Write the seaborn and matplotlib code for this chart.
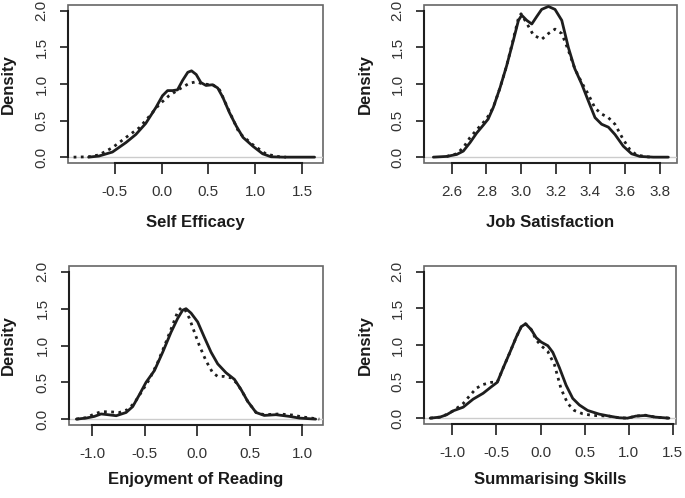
import matplotlib
matplotlib.use("Agg")
import matplotlib.pyplot as plt
import seaborn as sns

# ---- data (solid = line 1, dotted = line 2) ----
self_eff_x1 = [-0.78, -0.67, -0.525, -0.38, -0.275, -0.17, -0.06, 0.01, 0.064, 0.118, 0.17, 0.225,
               0.28, 0.32, 0.37, 0.42, 0.475, 0.546, 0.6, 0.654, 0.725, 0.796, 0.87, 0.975, 1.08,
               1.17, 1.3, 1.635]
self_eff_y1 = [0.0, 0.015, 0.07, 0.2, 0.31, 0.46, 0.68, 0.84, 0.91, 0.91, 0.92, 1.05,
               1.16, 1.18, 1.13, 1.02, 0.98, 0.99, 0.945, 0.82, 0.61, 0.43, 0.27, 0.15, 0.046,
               0.005, 0.0, 0.0]
self_eff_x2 = [-0.94, -0.78, -0.67, -0.525, -0.38, -0.24, -0.13, -0.025, 0.08, 0.19, 0.296, 0.37,
               0.44, 0.546, 0.62, 0.69, 0.83, 0.975, 1.12, 1.26, 1.33]
self_eff_y2 = [0.0, 0.005, 0.03, 0.13, 0.27, 0.40, 0.56, 0.72, 0.84, 0.93, 1.01, 1.03,
               1.0, 0.99, 0.92, 0.72, 0.33, 0.17, 0.04, 0.005, 0.0]

job_sat_x1 = [2.494, 2.571, 2.629, 2.667, 2.706, 2.744, 2.783, 2.81, 2.84, 2.879, 2.917, 2.956,
              2.985, 3.004, 3.033, 3.062, 3.09, 3.119, 3.158, 3.196, 3.235, 3.273, 3.31, 3.35,
              3.388, 3.427, 3.465, 3.504, 3.542, 3.59, 3.638, 3.686, 3.763, 3.85]
job_sat_y1 = [0.0, 0.01, 0.037, 0.083, 0.2, 0.33, 0.44, 0.52, 0.68, 0.95, 1.25, 1.6,
              1.87, 1.94, 1.87, 1.82, 1.92, 2.02, 2.06, 2.02, 1.87, 1.5, 1.21, 1.0,
              0.77, 0.54, 0.45, 0.41, 0.31, 0.15, 0.046, 0.01, 0.0, 0.0]
job_sat_x2 = [2.571, 2.629, 2.667, 2.706, 2.754, 2.8, 2.84, 2.879, 2.917, 2.956, 2.985, 3.0,
              3.033, 3.071, 3.119, 3.158, 3.196, 3.235, 3.273, 3.31, 3.35, 3.388, 3.427, 3.465,
              3.504, 3.542, 3.59, 3.629, 3.667, 3.725, 3.75]
job_sat_y2 = [0.01, 0.046, 0.13, 0.27, 0.40, 0.52, 0.68, 0.95, 1.25, 1.62, 1.9, 1.96,
              1.83, 1.67, 1.61, 1.69, 1.75, 1.69, 1.46, 1.21, 1.02, 0.86, 0.67, 0.59,
              0.54, 0.45, 0.24, 0.1, 0.03, 0.005, 0.0]

reading_x1 = [-1.15, -1.057, -0.978, -0.914, -0.85, -0.77, -0.676, -0.613, -0.55, -0.486, -0.406,
              -0.327, -0.248, -0.184, -0.137, -0.105, -0.057, 0.006, 0.07, 0.133, 0.197, 0.276,
              0.356, 0.42, 0.483, 0.562, 0.64, 0.752, 0.88, 0.975, 1.13]
reading_y1 = [0.0, 0.014, 0.037, 0.07, 0.06, 0.046, 0.09, 0.17, 0.33, 0.5, 0.66,
              0.91, 1.18, 1.37, 1.48, 1.5, 1.44, 1.32, 1.11, 0.91, 0.75, 0.63,
              0.54, 0.40, 0.24, 0.09, 0.05, 0.06, 0.037, 0.014, 0.0]
reading_x2 = [-1.15, -1.057, -0.978, -0.914, -0.835, -0.74, -0.66, -0.597, -0.533, -0.454, -0.375,
              -0.295, -0.232, -0.184, -0.152, -0.12, -0.073, -0.025, 0.022, 0.086, 0.149, 0.197,
              0.26, 0.324, 0.37, 0.42, 0.483, 0.562, 0.64, 0.784, 0.91, 1.0, 1.165]
reading_y2 = [0.0, 0.02, 0.07, 0.1, 0.1, 0.09, 0.13, 0.22, 0.36, 0.54, 0.77,
              1.05, 1.28, 1.46, 1.51, 1.5, 1.37, 1.18, 1.0, 0.79, 0.63, 0.58,
              0.58, 0.56, 0.5, 0.40, 0.24, 0.09, 0.06, 0.07, 0.055, 0.03, 0.0]

summ_x1 = [-1.25, -1.14, -1.064, -0.989, -0.876, -0.763, -0.65, -0.556, -0.49, -0.425, -0.35,
           -0.274, -0.218, -0.169, -0.105, -0.049, 0.008, 0.083, 0.139, 0.214, 0.29, 0.365,
           0.44, 0.534, 0.665, 0.778, 0.89, 0.985, 1.08, 1.19, 1.3, 1.455]
summ_y1 = [0.0, 0.014, 0.046, 0.1, 0.15, 0.26, 0.34, 0.43, 0.49, 0.68, 0.89,
           1.11, 1.25, 1.29, 1.21, 1.10, 1.04, 0.99, 0.9, 0.69, 0.45, 0.27,
           0.18, 0.105, 0.055, 0.028, 0.005, 0.0, 0.028, 0.037, 0.014, 0.0]
summ_x2 = [-1.25, -1.14, -1.064, -0.989, -0.876, -0.8, -0.726, -0.65, -0.556, -0.49, -0.425,
           -0.35, -0.274, -0.218, -0.169, -0.105, -0.049, 0.008, 0.083, 0.158, 0.233, 0.308,
           0.383, 0.477, 0.59, 0.778, 0.89, 0.985, 1.08, 1.19, 1.3, 1.455]
summ_y2 = [0.0, 0.014, 0.05, 0.1, 0.2, 0.31, 0.41, 0.46, 0.49, 0.49, 0.68,
           0.89, 1.11, 1.25, 1.29, 1.21, 1.07, 0.99, 0.91, 0.73, 0.40, 0.2,
           0.105, 0.06, 0.037, 0.028, 0.005, 0.0, 0.028, 0.04, 0.014, 0.0]

panel_labels = ["Self Efficacy", "Job Satisfaction", "Enjoyment of Reading", "Summarising Skills"]
y_ticks = [0.0, 0.5, 1.0, 1.5, 2.0]
x_ticks = [
    [-0.5, 0.0, 0.5, 1.0, 1.5],
    [2.6, 2.8, 3.0, 3.2, 3.4, 3.6, 3.8],
    [-1.0, -0.5, 0.0, 0.5, 1.0],
    [-1.0, -0.5, 0.0, 0.5, 1.0, 1.5],
]
x_limits = [(-1.0, 1.725), (2.44, 3.90), (-1.22, 1.20), (-1.32, 1.535)]

series = [
    (self_eff_x1, self_eff_y1, self_eff_x2, self_eff_y2),
    (job_sat_x1, job_sat_y1, job_sat_x2, job_sat_y2),
    (reading_x1, reading_y1, reading_x2, reading_y2),
    (summ_x1, summ_y1, summ_x2, summ_y2),
]

sns.set_theme(style="white")
plt.rcParams["font.family"] = ["Liberation Sans", "DejaVu Sans"]

W, H = 685, 498
fig = plt.figure(figsize=(W / 100, H / 100), dpi=100)

# axes boxes in pixels: left, top, right, bottom
boxes = [(68, 5, 323, 163), (424, 5, 677, 163), (69, 266, 323, 425), (424, 266, 676, 424)]
# pixel positions of axis titles: right edge of "Density", top of the x label
ylabel_right = [16, 373, 16, 373]
xlabel_top = [215, 215, 472, 472]

for i, (l, t, r, b) in enumerate(boxes):
    ax = fig.add_axes([l / W, (H - b) / H, (r - l) / W, (b - t) / H])
    x1, y1, x2, y2 = series[i]

    ax.axhline(0, color="#cccccc", lw=1.0, zorder=1)
    sns.lineplot(x=x1, y=y1, ax=ax, color="#1e1e1e", linewidth=2.0,
                 estimator=None, sort=False, solid_joinstyle="round", zorder=3)
    sns.lineplot(x=x2, y=y2, ax=ax, color="#1e1e1e", linewidth=2.0,
                 linestyle=(0, (1, 1.6)), estimator=None, sort=False, zorder=2)

    ax.set_xlim(*x_limits[i])
    ax.set_ylim(-0.08, 2.08)

    ax.set_xticks(x_ticks[i])
    ax.set_xticklabels([f"{v:.1f}" for v in x_ticks[i]])
    ax.set_yticks(y_ticks)
    ax.set_yticklabels([f"{v:.1f}" for v in y_ticks], rotation=90, va="center")

    # R-style box + axis lines spanning tick range
    ax.patch.set_edgecolor("#666666")
    ax.patch.set_linewidth(1.2)
    ax.spines["top"].set_visible(False)
    ax.spines["right"].set_visible(False)
    for s in ("left", "bottom"):
        ax.spines[s].set_color("#1e1e1e")
        ax.spines[s].set_linewidth(1.5)
    ax.spines["bottom"].set_bounds(x_ticks[i][0], x_ticks[i][-1])
    ax.spines["left"].set_bounds(0, 2)

    ax.tick_params(axis="both", which="major", direction="out", width=1.2,
                   color="#1e1e1e", labelsize=11, labelcolor="#333333",
                   bottom=True, left=True)
    ax.tick_params(axis="x", length=8, pad=8)
    ax.tick_params(axis="y", length=6, pad=8)

    ax.set_xlabel(panel_labels[i], fontsize=12, fontweight="bold", color="#1a1a1a")
    ax.set_ylabel("Density", fontsize=12, fontweight="bold", color="#1a1a1a")
    ax.xaxis.set_label_coords(0.5, (b - xlabel_top[i]) / (b - t))
    ax.yaxis.set_label_coords((ylabel_right[i] - l) / (r - l), 0.5)

fig.savefig("out.png", dpi=100)
